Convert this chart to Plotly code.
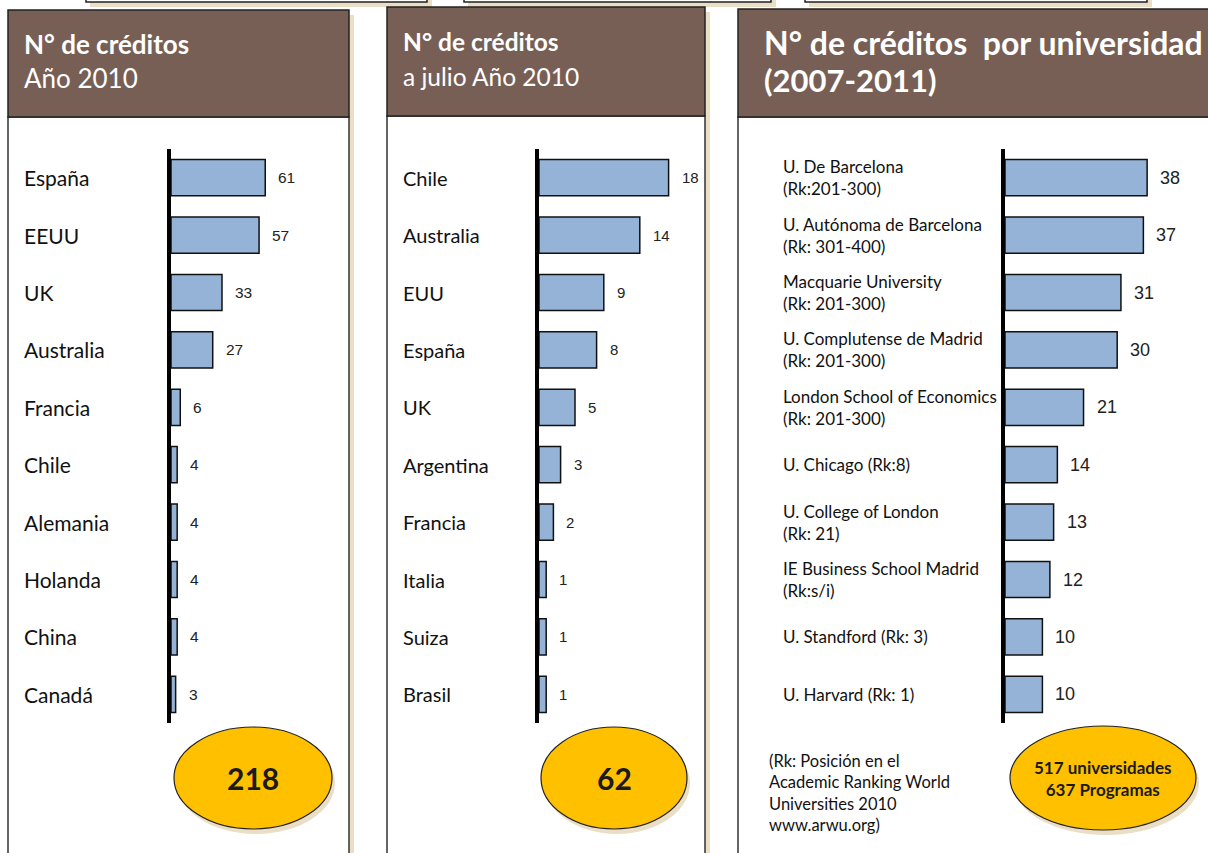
import plotly.graph_objects as go

W, H = 1208, 853

# ---------------- data ----------------
countries_2010 = ["España", "EEUU", "UK", "Australia", "Francia", "Chile",
                  "Alemania", "Holanda", "China", "Canadá"]
credits_2010 = [61, 57, 33, 27, 6, 4, 4, 4, 4, 3]
total_2010 = "218"

countries_jul2010 = ["Chile", "Australia", "EUU", "España", "UK", "Argentina",
                     "Francia", "Italia", "Suiza", "Brasil"]
credits_jul2010 = [18, 14, 9, 8, 5, 3, 2, 1, 1, 1]
total_jul2010 = "62"

universities = ["U. De Barcelona", "U. Autónoma de Barcelona", "Macquarie University",
                "U. Complutense de Madrid", "London School of Economics",
                "U. Chicago (Rk:8)", "U. College of London", "IE Business School Madrid",
                "U. Standford (Rk: 3)", "U. Harvard (Rk: 1)"]
uni_ranks = ["(Rk:201-300)", "(Rk: 301-400)", "(Rk: 201-300)", "(Rk: 201-300)",
             "(Rk: 201-300)", "", "(Rk: 21)", "(Rk:s/i)", "", ""]
credits_uni = [38, 37, 31, 30, 21, 14, 13, 12, 10, 10]
uni_summary = ["517 universidades", "637 Programas"]
footnote = ["(Rk: Posición en el", "Academic Ranking World", "Universities 2010", "www.arwu.org)"]

titles = [("N° de créditos", "Año 2010"),
          ("N° de créditos", "a julio Año 2010"),
          ("N° de créditos  por universidad", "(2007-2011)")]

# ---------------- styles ----------------
BROWN = "#775f55"
BEIGE = "#eadfc6"
BAR = "#95b3d7"
GOLD = "#ffc000"
FONT = "Lato, 'Noto Sans', sans-serif"
NUMFONT = "'Liberation Sans', Arial, sans-serif"


def px(x):
    return x / W


def py(y):
    return 1 - y / H


ydom = [py(723), py(149)]

fig = go.Figure()

panels = [
    dict(ax="", x0=171, x1=340, pxu=1.545, cats=countries_2010, vals=credits_2010,
         lab_x=22, lab_size=21, val_size=15.5),
    dict(ax="2", x0=539, x1=700, pxu=7.2, cats=countries_jul2010, vals=credits_jul2010,
         lab_x=401, lab_size=20, val_size=15),
    dict(ax="3", x0=1005, x1=1205, pxu=3.74, cats=universities, vals=credits_uni,
         lab_x=781, lab_size=17, val_size=18),
]

annotations = []
for i, p in enumerate(panels):
    xa = "x" + p["ax"]
    ya = "y" + p["ax"]
    fig.add_trace(go.Bar(
        x=p["vals"], y=p["cats"], orientation="h",
        marker=dict(color=BAR, line=dict(color="#111111", width=1.5)),
        xaxis=xa, yaxis=ya, hoverinfo="x+y", showlegend=False,
    ))
    rng = (p["x1"] - p["x0"]) / p["pxu"]
    fig.update_layout(**{
        "xaxis" + p["ax"]: dict(domain=[px(p["x0"]), px(p["x1"])], range=[0, rng],
                                visible=False, fixedrange=True, anchor=ya),
        "yaxis" + p["ax"]: dict(domain=ydom, type="category", categoryorder="array",
                                categoryarray=p["cats"], autorange="reversed",
                                showline=True, linecolor="black", linewidth=4,
                                showticklabels=False, ticks="", showgrid=False,
                                zeroline=False, anchor=xa, fixedrange=True),
    })
    # category labels
    for j, c in enumerate(p["cats"]):
        txt = c
        if i == 2 and uni_ranks[j]:
            txt = c + "<br>" + uni_ranks[j]
        annotations.append(dict(
            x=px(p["lab_x"]), xref="paper", xanchor="left",
            y=c, yref=ya, yanchor="middle", text=txt, showarrow=False, align="left",
            font=dict(family=FONT, size=p["lab_size"], color="#111111"),
        ))
    # value labels
    for c, v in zip(p["cats"], p["vals"]):
        annotations.append(dict(
            x=v, xref=xa, xanchor="left", xshift=11,
            y=c, yref=ya, yanchor="middle", text=str(v), showarrow=False,
            font=dict(family=NUMFONT, size=p["val_size"], color="#222222"),
        ))

# ---------------- panel frames ----------------
shapes = []


def rect(x0, y0, x1, y1, fill, line=None, lw=1.5, layer="below"):
    shapes.append(dict(type="rect", xref="paper", yref="paper",
                       x0=px(x0), x1=px(x1), y0=py(y1), y1=py(y0),
                       fillcolor=fill,
                       line=dict(color=line or fill, width=lw if line else 0),
                       layer=layer))


# small boxes along the top edge
for bx0, bx1 in [(86, 427), (464, 771), (805, 1147)]:
    rect(bx0 + 4, -10, bx1 + 5, 7, BEIGE)
    rect(bx0, -10, bx1, 2, "white", "#222222", 1.5)

frames = [(8, 10, 349, 117), (387, 7, 705, 116), (738, 9, 1216, 117)]
for fx0, fy0, fx1, fy1 in frames:
    rect(fx0 + 5, fy0 + 5, fx1 + 5, 870, BEIGE)
    rect(fx0, fy1, fx1, 870, "white", "#333333", 1.5)
    rect(fx0, fy0, fx1, fy1, BROWN, "#222222", 1.5)

# titles
title_specs = [
    (22, 44, 78, 26, 26),
    (401, 42, 76, 24.5, 24.5),
    (762, 43, 80, 32, 31),
]
for (t1, t2), (tx, ty1, ty2, s1, s2), k in zip(titles, title_specs, range(3)):
    annotations.append(dict(x=px(tx), y=py(ty1), xref="paper", yref="paper",
                            xanchor="left", yanchor="middle", showarrow=False,
                            text="<b>" + t1 + "</b>",
                            font=dict(family=FONT, size=s1, color="white")))
    annotations.append(dict(x=px(tx), y=py(ty2), xref="paper", yref="paper",
                            xanchor="left", yanchor="middle", showarrow=False,
                            text=("<b>" + t2 + "</b>") if k == 2 else t2,
                            font=dict(family=FONT, size=s2, color="white")))

# ---------------- totals (ellipses) ----------------
ellipses = [
    (253, 778, 79, 51, "<b>" + total_2010 + "</b>", 30, FONT),
    (614, 778, 73, 51, "<b>" + total_jul2010 + "</b>", 30, FONT),
    (1103, 778, 93, 52, "<b>" + uni_summary[0] + "<br>" + uni_summary[1] + "</b>", 17, FONT),
]
for cx, cy, rx, ry, txt, fs, ff in ellipses:
    shapes.append(dict(type="circle", xref="paper", yref="paper",
                       x0=px(cx - rx + 3), x1=px(cx + rx + 3), y0=py(cy + ry + 5), y1=py(cy - ry + 5),
                       fillcolor=BEIGE, line=dict(width=0), layer="above"))
    shapes.append(dict(type="circle", xref="paper", yref="paper",
                       x0=px(cx - rx), x1=px(cx + rx), y0=py(cy + ry), y1=py(cy - ry),
                       fillcolor=GOLD, line=dict(color="#222222", width=1.2), layer="above"))
    annotations.append(dict(x=px(cx), y=py(cy), xref="paper", yref="paper",
                            xanchor="center", yanchor="middle", showarrow=False,
                            text=txt, align="center",
                            font=dict(family=ff, size=fs, color="#1a1a1a")))

# footnote
annotations.append(dict(x=px(767), y=py(793), xref="paper", yref="paper",
                        xanchor="left", yanchor="middle", showarrow=False, align="left",
                        text="<br>".join(footnote),
                        font=dict(family=FONT, size=16.5, color="#111111")))

fig.update_layout(
    width=W, height=H, margin=dict(l=0, r=0, t=0, b=0),
    paper_bgcolor="white", plot_bgcolor="rgba(0,0,0,0)",
    bargap=0.37, shapes=shapes, annotations=annotations, showlegend=False,
)

fig.write_html("out.html", config={"displayModeBar": False},
               post_script="document.body.style.margin='0';document.body.style.overflow='hidden';")
